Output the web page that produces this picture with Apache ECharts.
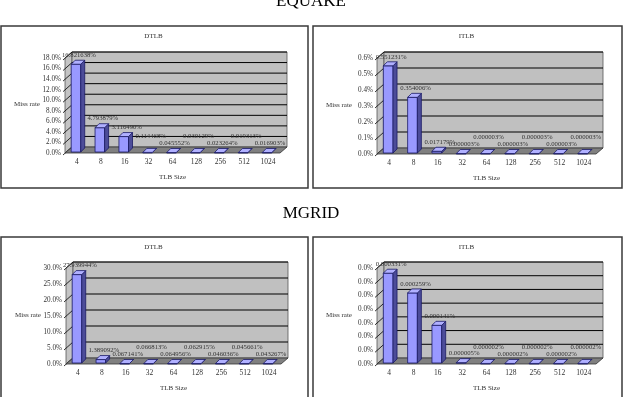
<!DOCTYPE html>
<html><head><meta charset="utf-8">
<script src="https://cdn.jsdelivr.net/npm/echarts@6/dist/echarts.min.js"></script>
<style>html,body{margin:0;padding:0;background:#fff}#c{width:627px;height:397px}</style>
</head><body><div id="c"></div>
<script>
// ---- data ----
const tlbSizes = ['4', '8', '16', '32', '64', '128', '256', '512', '1024'];
const equakeDtlb = [16.821638, 4.793879, 3.116490, 0.114468, 0.045552, 0.030129, 0.023264, 0.019313, 0.016903];
const equakeItlb = [0.551231, 0.354006, 0.017179, 0.000003, 0.000003, 0.000003, 0.000003, 0.000003, 0.000003];
const mgridDtlb = [27.939944, 1.389092, 0.067141, 0.066813, 0.064956, 0.062915, 0.046036, 0.045661, 0.043267];
const mgridItlb = [0.000331, 0.000259, 0.000141, 0.000005, 0.000002, 0.000002, 0.000002, 0.000002, 0.000002];
const equakeDtlbTicks = [0, 2, 4, 6, 8, 10, 12, 14, 16, 18];
const equakeItlbTicks = [0, 0.1, 0.2, 0.3, 0.4, 0.5, 0.6];
const mgridDtlbTicks = [0, 5, 10, 15, 20, 25, 30];
const mgridItlbTicks = [0, 0.00005, 0.0001, 0.00015, 0.0002, 0.00025, 0.0003, 0.00035];
const benchmarks = ['EQUAKE', 'MGRID'];
const chartTitles = ['DTLB', 'ITLB'];
const yName = 'Miss rate';
const xName = 'TLB Size';

// ---- layout ----
const FONT = '"Liberation Serif", "DejaVu Serif", serif';
const DX = 7, DY = -6;     // wall depth
const BDX = 4, BDY = -4;   // bar depth
const panels = [
  {data: equakeDtlb, ticks: equakeDtlbTicks, title: chartTitles[0], box: [1, 26, 307, 162], grid: {left: 65, top: 58, width: 215, height: 95}, highParity: 1},
  {data: equakeItlb, ticks: equakeItlbTicks, title: chartTitles[1], box: [313, 26, 309, 162], grid: {left: 377, top: 58, width: 219, height: 96}, highParity: 0},
  {data: mgridDtlb, ticks: mgridDtlbTicks, title: chartTitles[0], box: [1, 237, 307, 162], grid: {left: 66, top: 268, width: 215, height: 96}, highParity: 1},
  {data: mgridItlb, ticks: mgridItlbTicks, title: chartTitles[1], box: [313, 237, 309, 162], grid: {left: 377, top: 268, width: 219, height: 96}, highParity: 0}
];

const chart = echarts.init(document.getElementById('c'), null, {renderer: 'canvas'});

const grids = [], xAxes = [], yAxes = [], series = [], graphics = [];

panels.forEach((p, i) => {
  const ticks = p.ticks;
  const interval = ticks[1] - ticks[0];
  grids.push(Object.assign({containLabel: false}, p.grid));
  xAxes.push({
    type: 'category', gridIndex: i, data: tlbSizes,
    axisLine: {show: false}, axisTick: {show: false},
    axisLabel: {fontFamily: FONT, fontSize: 7.5, color: '#333', margin: 5},
    name: xName, nameLocation: 'middle', nameGap: 21,
    nameTextStyle: {fontFamily: FONT, fontSize: 7, color: '#333'}
  });
  yAxes.push({
    type: 'value', gridIndex: i, min: ticks[0], max: ticks[ticks.length - 1], interval: interval,
    axisLine: {show: false}, axisTick: {show: false}, splitLine: {show: false},
    axisLabel: {fontFamily: FONT, fontSize: 7.2, color: '#333', margin: 4,
      formatter: v => v.toFixed(1) + '%'}
  });
  // walls
  series.push({
    type: 'custom', xAxisIndex: i, yAxisIndex: i, clip: false, silent: true, z: 1,
    data: [[0, 0]],
    renderItem: function (params, api) {
      const cs = params.coordSys;
      const x = cs.x, y = cs.y, w = cs.width, h = cs.height;
      const ch = [];
      ch.push({type: 'polygon', shape: {points: [[x, y], [x + DX, y + DY], [x + DX, y + h + DY], [x, y + h]]},
        style: {fill: '#c4c4c4', stroke: '#555', lineWidth: 0.8}});
      ch.push({type: 'rect', shape: {x: x + DX, y: y + DY, width: w, height: h},
        style: {fill: '#c0c0c0', stroke: '#555', lineWidth: 0.8}});
      ticks.forEach((t, k) => {
        const ty = api.coord([0, t])[1];
        if (k > 0) {
          ch.push({type: 'line', shape: {x1: x + DX, y1: ty + DY, x2: x + w + DX, y2: ty + DY},
            style: {stroke: '#000', lineWidth: 1}});
        }
        ch.push({type: 'line', shape: {x1: x - 2, y1: ty + 2, x2: x + DX, y2: ty + DY},
          style: {stroke: '#000', lineWidth: 0.8}});
      });
      ch.push({type: 'polygon', shape: {points: [[x, y + h], [x + DX, y + h + DY], [x + w + DX, y + h + DY], [x + w, y + h]]},
        style: {fill: '#808080', stroke: '#333', lineWidth: 0.8}});
      return {type: 'group', children: ch};
    }
  });
  // 3D bars
  series.push({
    type: 'custom', xAxisIndex: i, yAxisIndex: i, clip: false, z: 3,
    data: p.data.map((v, k) => [k, v]),
    renderItem: function (params, api) {
      const idx = api.value(0), v = api.value(1);
      const top = api.coord([idx, v]), base = api.coord([idx, 0]);
      const bw = api.size([1, 0])[0] * 0.4;
      const x0 = top[0] - bw / 2 - 1, x1 = x0 + bw;
      const y0 = Math.min(top[1], base[1] - 0.5), y1 = base[1] - 1;
      let ly = y0 - 9;
      if (idx >= 3 && idx % 2 === p.highParity) ly -= 7;
      return {type: 'group', children: [
        {type: 'rect', shape: {x: x0, y: y0, width: bw, height: Math.max(y1 - y0, 0.5)},
          style: {fill: '#9999ff', stroke: '#1a1a66', lineWidth: 0.8}},
        {type: 'polygon', shape: {points: [[x1, y0], [x1 + BDX, y0 + BDY], [x1 + BDX, y1 + BDY], [x1, y1]]},
          style: {fill: '#4c4c99', stroke: '#1a1a66', lineWidth: 0.8}},
        {type: 'polygon', shape: {points: [[x0, y0], [x0 + BDX, y0 + BDY], [x1 + BDX, y0 + BDY], [x1, y0]]},
          style: {fill: '#b0b0ff', stroke: '#1a1a66', lineWidth: 0.8}},
        {type: 'text', z2: 10, style: {x: x0 + bw / 2 + 3, y: ly, text: v.toFixed(6) + '%',
          fontFamily: FONT, fontSize: 6.7, fill: '#333', align: 'center', verticalAlign: 'middle'}}
      ]};
    }
  });
  // frame and labels
  graphics.push({type: 'rect', z: 0, shape: {x: p.box[0], y: p.box[1], width: p.box[2], height: p.box[3]},
    style: {fill: '#fff', stroke: '#3a3a3a', lineWidth: 1.5}});
  graphics.push({type: 'text', z: 5, style: {x: p.box[0] + p.box[2] / 2 - 1, y: p.box[1] + 10,
    text: p.title, fontFamily: FONT, fontSize: 7, fill: '#333', align: 'center', verticalAlign: 'middle'}});
  graphics.push({type: 'text', z: 5, style: {x: p.grid.left - 38, y: p.grid.top + p.grid.height / 2 - 1,
    text: yName, fontFamily: FONT, fontSize: 7, fill: '#333', align: 'center', verticalAlign: 'middle'}});
});

graphics.push({type: 'text', z: 5, style: {x: 311, y: 2, text: benchmarks[0], fontFamily: FONT, fontSize: 17, fill: '#000', align: 'center', verticalAlign: 'middle'}});
graphics.push({type: 'text', z: 5, style: {x: 311, y: 214, text: benchmarks[1], fontFamily: FONT, fontSize: 17, fill: '#000', align: 'center', verticalAlign: 'middle'}});

chart.setOption({
  animation: false,
  backgroundColor: '#fff',
  grid: grids, xAxis: xAxes, yAxis: yAxes, series: series,
  graphic: {elements: graphics}
});
</script></body></html>
